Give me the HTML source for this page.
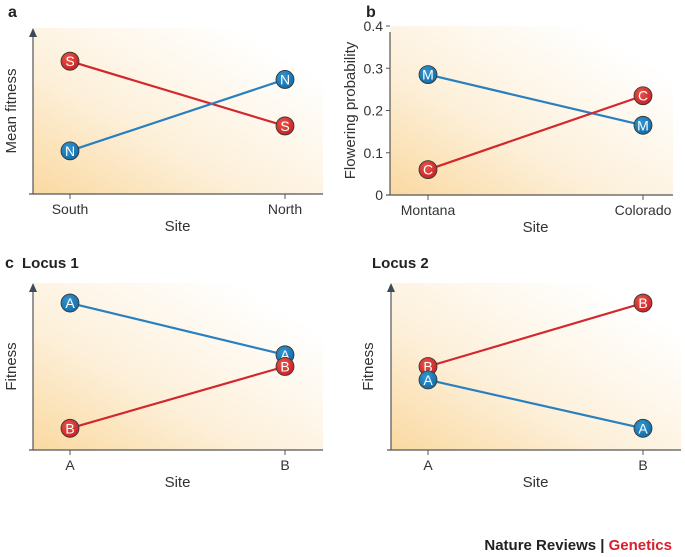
<!DOCTYPE html>
<html><head><meta charset="utf-8">
<style>
html,body{margin:0;padding:0;background:#fff;}
svg{display:block;font-family:"Liberation Sans",sans-serif;}
</style></head>
<body>
<svg id="fig" width="685" height="557" viewBox="0 0 685 557">
<defs>
<linearGradient id="bg" x1="0" y1="1" x2="0.85" y2="0.15">
<stop offset="0" stop-color="#fad9a1"/>
<stop offset="0.45" stop-color="#fdf0da"/>
<stop offset="1" stop-color="#ffffff"/>
</linearGradient>
<radialGradient id="redg" cx="0.4" cy="0.35" r="0.7">
<stop offset="0" stop-color="#e8574a"/><stop offset="1" stop-color="#c41f24"/>
</radialGradient>
<radialGradient id="blug" cx="0.4" cy="0.35" r="0.7">
<stop offset="0" stop-color="#3596d0"/><stop offset="1" stop-color="#0f6aa6"/>
</radialGradient>
</defs>
<text x="8" y="17" font-size="16" font-weight="bold" fill="#222">a</text>
<text x="366" y="17" font-size="16" font-weight="bold" fill="#222">b</text>
<text x="5" y="268" font-size="16" font-weight="bold" fill="#222">c</text>
<text x="22" y="268" font-size="15" font-weight="bold" fill="#222">Locus 1</text>
<text x="372" y="268" font-size="15" font-weight="bold" fill="#222">Locus 2</text>
<text x="672" y="550" font-size="15" font-weight="bold" text-anchor="end"><tspan fill="#222">Nature Reviews | </tspan><tspan fill="#d7202c">Genetics</tspan></text>
</svg>
<script>
// Panel a
const aCats = ["South","North"];
const aS = [0.80, 0.41];
const aN = [0.26, 0.69];
// Panel b
const bCats = ["Montana","Colorado"];
const bTicks = [0,0.1,0.2,0.3,0.4];
const bM = [0.285, 0.165];
const bC = [0.06, 0.235];
// Panel c locus 1
const c1Cats = ["A","B"];
const c1A = [0.88, 0.57];
const c1B = [0.13, 0.50];
// Panel c locus 2
const c2Cats = ["A","B"];
const c2B = [0.50, 0.88];
const c2A = [0.42, 0.13];

const NS="http://www.w3.org/2000/svg";
const svg=document.getElementById('fig');
function mk(tag,attrs,parent){const e=document.createElementNS(NS,tag);for(const k in attrs)e.setAttribute(k,attrs[k]);(parent||svg).appendChild(e);return e;}

function panel(p){
  const g=mk('g',{});
  
  
  const yS=v=>p.y0-(v-p.vmin)/(p.vmax-p.vmin)*(p.y0-p.y1);
  const xS=i=>p.xs[i];
  const bgr=mk('rect',{x:p.ax,y:p.top,width:p.right-p.ax,height:p.y0-p.top,fill:'url(#bg)'},g);
  
  
  const yax=mk('line',{x1:p.ax,y1:p.y0,x2:p.ax,y2:p.top+6,stroke:'#555','stroke-width':1.2},g);
  
  
  if(p.arrow){
    const ar=mk('path',{d:`M${p.ax-4},${p.top+9} L${p.ax},${p.top} L${p.ax+4},${p.top+9} Z`,fill:'#3d4a57'},g);
    
    
  }
  const xax=mk('line',{x1:p.ax-4,y1:p.y0,x2:p.right,y2:p.y0,stroke:'#555','stroke-width':1.2},g);
  
  
  p.cats.forEach((c,i)=>{
    mk('line',{x1:xS(i),y1:p.y0,x2:xS(i),y2:p.y0+5,stroke:'#555'},g);
    const t=mk('text',{x:xS(i),y:p.y0+20,'font-size':14,'text-anchor':'middle',fill:'#333'},g);
    t.textContent=c;
    
    
  });
  if(p.ticks){
    p.ticks.forEach(v=>{
      mk('line',{x1:p.ax-4,y1:yS(v),x2:p.ax,y2:yS(v),stroke:'#555'},g);
      const t=mk('text',{x:p.ax-7,y:yS(v)+5,'font-size':14,'text-anchor':'end',fill:'#333'},g);
      t.textContent=v===0?'0':v.toFixed(1);
      
      
    });
  }
  const xt=mk('text',{x:(xS(0)+xS(1))/2,y:p.y0+37,'font-size':15,'text-anchor':'middle',fill:'#333'},g);
  xt.textContent='Site';
  
  
  const yt=mk('text',{x:p.ytx,y:(p.top+p.y0)/2,'font-size':15,'text-anchor':'middle',fill:'#333',transform:`rotate(-90 ${p.ytx} ${(p.top+p.y0)/2})`},g);
  yt.textContent=p.ytitle;
  
  
  p.series.forEach(s=>{
    const col=s.color==='red'?'#d3272d':'#2a80bf';
    const ln=mk('line',{x1:xS(0),y1:yS(s.vals[0]),x2:xS(1),y2:yS(s.vals[1]),stroke:col,'stroke-width':2.2},g);
    
    
  });
  p.series.forEach(s=>{
    s.vals.forEach((v,i)=>{
      const cg=mk('g',{},g);
      
      
      mk('circle',{cx:xS(i),cy:yS(v),r:9,fill:s.color==='red'?'url(#redg)':'url(#blug)',stroke:'#333','stroke-width':0.8},cg);
      const t=mk('text',{x:xS(i),y:yS(v)+5,'font-size':14,'text-anchor':'middle',fill:'#fff'},cg);
      t.textContent=s.label;
    });
  });
}
panel({id:'panel-a',cats:aCats,xs:[70,285],ax:33,top:28,y0:194,y1:28,right:323,vmin:0,vmax:1,arrow:true,ytitle:'Mean fitness',ytx:16,
  series:[{label:'S',color:'red',vals:aS},{label:'N',color:'blue',vals:aN}]});
panel({id:'panel-b',cats:bCats,xs:[428,643],ax:390,top:26,y0:195,y1:26,right:673,vmin:0,vmax:0.4,ticks:bTicks,arrow:false,ytitle:'Flowering probability',ytx:355,
  series:[{label:'M',color:'blue',vals:bM},{label:'C',color:'red',vals:bC}]});
panel({id:'panel-c-locus-1',cats:c1Cats,xs:[70,285],ax:33,top:283,y0:450,y1:283,right:323,vmin:0,vmax:1,arrow:true,ytitle:'Fitness',ytx:16,
  series:[{label:'A',color:'blue',vals:c1A},{label:'B',color:'red',vals:c1B}]});
panel({id:'panel-c-locus-2',cats:c2Cats,xs:[428,643],ax:391,top:283,y0:450,y1:283,right:681,vmin:0,vmax:1,arrow:true,ytitle:'Fitness',ytx:373,
  series:[{label:'B',color:'red',vals:c2B},{label:'A',color:'blue',vals:c2A}]});
</script>
</body></html>
